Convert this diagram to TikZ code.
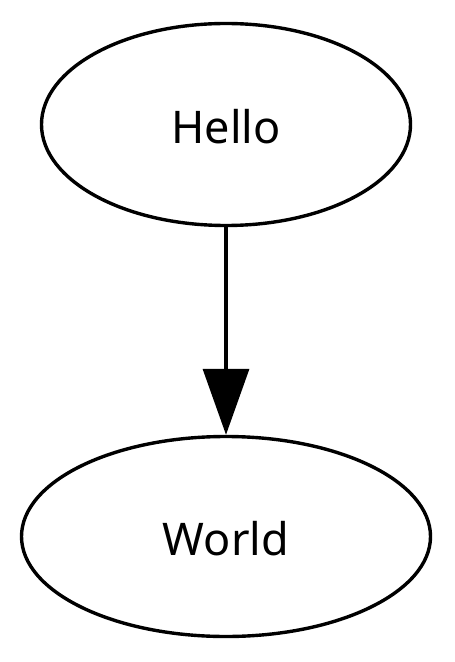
\documentclass[tikz,border=0pt]{standalone}
\usepackage{fontspec}
\setmainfont{Noto Sans}
\usetikzlibrary{shapes.geometric,arrows.meta}
\begin{document}
\begin{tikzpicture}[x=0.5pt,y=-0.5pt,
  oval/.style={draw, ellipse, line width=1.7pt, inner sep=0pt,
    text height=19pt, text depth=0pt,
    font=\fontsize{22.5pt}{27pt}\selectfont},
  link/.style={line width=1.7pt, -{Triangle[length=33pt,width=23pt]}}]
  \useasboundingbox (0,0) rectangle (454,662);
  \node[oval, minimum width=184.5pt, minimum height=101pt] (hello) at (226,124.5) {Hello};
  \node[oval, minimum width=204.5pt, minimum height=100pt] (world) at (226,536.5) {World};
  \draw[link] (hello) -- (world);
\end{tikzpicture}
\end{document}
